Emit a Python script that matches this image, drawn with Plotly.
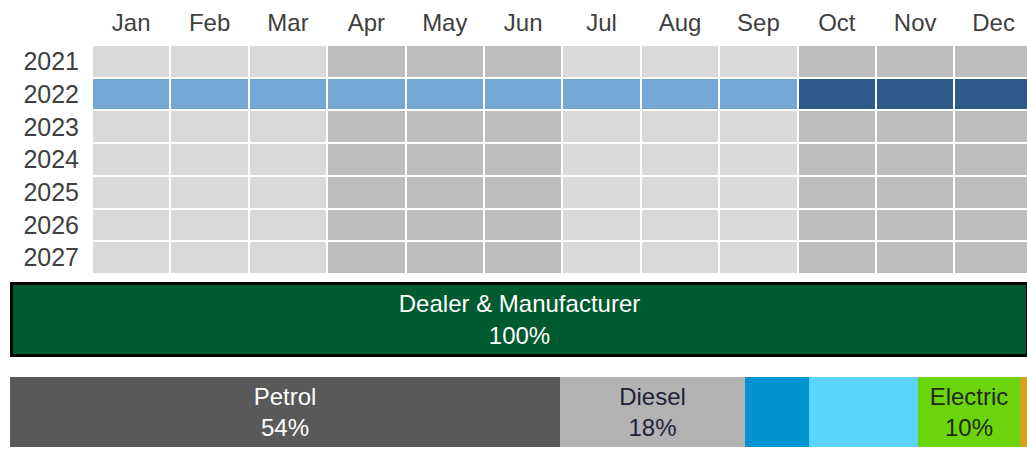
import plotly.graph_objects as go

# ---------------- data ----------------
months = ["Jan", "Feb", "Mar", "Apr", "May", "Jun", "Jul", "Aug", "Sep", "Oct", "Nov", "Dec"]
years = ["2021", "2022", "2023", "2024", "2025", "2026", "2027"]
quarter_band = [0, 0, 0, 1, 1, 1, 0, 0, 0, 1, 1, 1]          # 0 = light quarter, 1 = dark quarter
highlight_year = "2022"
highlight_status = [2, 2, 2, 2, 2, 2, 2, 2, 2, 3, 3, 3]      # 2 = elapsed, 3 = current quarter

channel_name = ["Dealer & Manufacturer"]
channel_share = [100]

fuel_names = ["Petrol", "Diesel", "Hybrid", "Plug-in Hybrid", "Electric", "Other"]
fuel_share = [53.9, 18.2, 6.2, 10.7, 10.0, 1.0]
fuel_show_label = [True, True, False, False, True, False]

# ---------------- styles ----------------
heat_colors = ["#D9D9D9", "#BDBDBD", "#74A7D3", "#2E5A89"]
fuel_colors = ["#595959", "#B3B3B3", "#0095D2", "#5BD3FB", "#6CD40C", "#D6A21C"]
fuel_text_colors = ["white", "#22223A", "white", "white", "#1E2A10", "white"]
W, H = 1027, 451
FONT = "Liberation Sans, Arial, sans-serif"
TXT = 24

z = [highlight_status if y == highlight_year else quarter_band for y in years]

cs = [[0, heat_colors[0]], [1/6, heat_colors[0]], [1/6, heat_colors[1]], [0.5, heat_colors[1]],
      [0.5, heat_colors[2]], [5/6, heat_colors[2]], [5/6, heat_colors[3]], [1, heat_colors[3]]]

fig = go.Figure()

fig.add_trace(go.Heatmap(
    z=z, x=months, y=years, colorscale=cs, zmin=0, zmax=3, showscale=False,
    xgap=2, ygap=2, hoverinfo="x+y", xaxis="x", yaxis="y"))

fig.add_trace(go.Bar(
    x=channel_share, y=[0], orientation="h", width=1,
    marker=dict(color="#005A30", line=dict(color="black", width=3)),
    text=[f"{channel_name[0]}<br>{channel_share[0]}%"], textposition="inside",
    insidetextanchor="middle", textfont=dict(color="white", size=TXT, family=FONT),
    xaxis="x2", yaxis="y2", showlegend=False, name=channel_name[0]))

for n, v, c, tc, show in zip(fuel_names, fuel_share, fuel_colors, fuel_text_colors, fuel_show_label):
    fig.add_trace(go.Bar(
        x=[v], y=[0], orientation="h", width=1, name=n,
        marker=dict(color=c, line=dict(width=0)),
        text=[f"{n}<br>{round(v)}%" if show else ""], textposition="inside",
        insidetextanchor="middle", textfont=dict(color=tc, size=TXT, family=FONT),
        xaxis="x3", yaxis="y3", showlegend=False))

def py(top, bottom):
    return [1 - bottom / H, 1 - top / H]

col_w = 78.4
x_left = 92
px_per_pct = 10.2
fig.update_layout(
    width=W, height=H, margin=dict(l=0, r=0, t=0, b=0),
    paper_bgcolor="white", plot_bgcolor="white",
    barmode="stack", bargap=0, showlegend=False,
    font=dict(family=FONT, color="#404040"),
    xaxis=dict(domain=[x_left / W, 1], range=[-0.5, -0.5 + (W - x_left) / col_w],
               side="top", showgrid=False, zeroline=False, showline=False,
               tickfont=dict(size=24, color="#404040"), ticks="", ticklabelstandoff=8),
    yaxis=dict(domain=py(45, 274), autorange="reversed", type="category",
               showgrid=False, zeroline=False, showline=False,
               tickfont=dict(size=25, color="#404040"), ticks="", ticklabelstandoff=12),
    xaxis2=dict(domain=[0, 1], range=[-11.5 / 10.165, (W - 11.5) / 10.165], visible=False),
    yaxis2=dict(domain=py(279, 360), range=[-0.5625, 0.5625], visible=False),
    xaxis3=dict(domain=[0, 1], range=[-10 / px_per_pct, (W - 10) / px_per_pct], visible=False),
    yaxis3=dict(domain=py(377, 447), range=[-0.5, 0.5], visible=False),
)

fig.write_html("out.html", config={"displayModeBar": False},
               post_script="document.body.style.margin='0';document.body.style.overflow='hidden';")
